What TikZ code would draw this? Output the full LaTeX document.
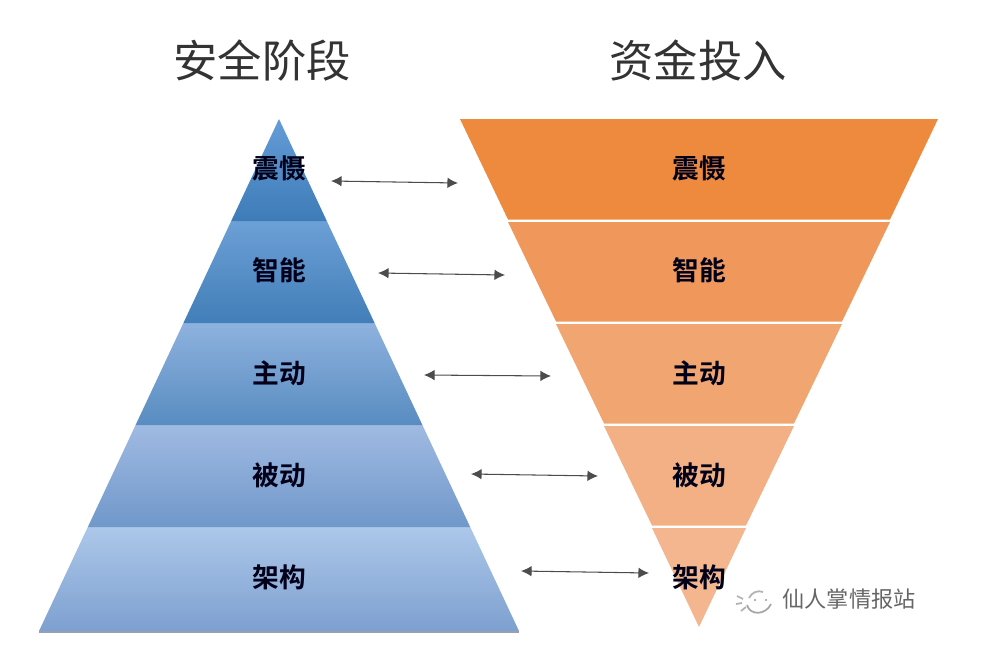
\documentclass[tikz,border=0pt]{standalone}
\usepackage{fontspec}
\setmainfont{Noto Sans CJK SC}
\newfontfamily\boldcjk[BoldFont={Noto Sans CJK SC Bold}]{Noto Sans CJK SC}
\usetikzlibrary{arrows.meta}
\definecolor{bandedge}{HTML}{9A9FB0}
\tikzset{
 titletext/.style={text=black!80,font=\fontsize{12.6pt}{14pt}\selectfont,inner sep=0pt},
 bandtext/.style={text=black!90!blue,font=\boldcjk\bfseries\fontsize{7.6pt}{9pt}\selectfont,inner sep=0pt},
 marktext/.style={text=black!60,font=\fontsize{6.3pt}{8pt}\selectfont,inner sep=0pt},
 linkarrow/.style={{Latex[length=3pt,width=3pt]}-{Latex[length=3pt,width=3pt]},black!70,line width=0.3pt},
}
\begin{document}
\begin{tikzpicture}[x=0.01cm,y=-0.01cm]
 \useasboundingbox (0,0) rectangle (988,648);
 % left pyramid
 \fill[bandedge](39,631)--(519,631)--(519,633)--(39,633)--cycle;
 \shade[top color={rgb,255:red,172;green,199;blue,233},bottom color={rgb,255:red,126;green,160;blue,208}](87.8,527)--(470.2,527)--(519,631)--(39,631)--cycle;
 \shade[top color={rgb,255:red,160;green,186;blue,226},bottom color={rgb,255:red,112;green,152;blue,202}](135.6,425)--(422.4,425)--(470.2,527)--(87.8,527)--cycle;
 \shade[top color={rgb,255:red,142;green,178;blue,222},bottom color={rgb,255:red,88;green,140;blue,192}](183.4,323)--(374.6,323)--(422.4,425)--(135.6,425)--cycle;
 \shade[top color={rgb,255:red,108;green,160;blue,214},bottom color={rgb,255:red,66;green,126;blue,184}](231.2,221)--(326.8,221)--(374.6,323)--(183.4,323)--cycle;
 \shade[top color={rgb,255:red,100;green,156;blue,214},bottom color={rgb,255:red,62;green,124;blue,184}](279,119)--(326.8,221)--(231.2,221)--cycle;
 % right pyramid
 \fill[fill={rgb,255:red,238;green,138;blue,62}](460,119)--(938,119)--(890,219.5)--(508,219.5)--cycle;
 \fill[fill={rgb,255:red,240;green,152;blue,92}](508,222)--(890,222)--(842,321.5)--(556,321.5)--cycle;
 \fill[fill={rgb,255:red,241;green,166;blue,114}](556,324)--(842,324)--(794,423.5)--(604,423.5)--cycle;
 \fill[fill={rgb,255:red,242;green,176;blue,132}](604,426)--(794,426)--(746,525.5)--(652,525.5)--cycle;
 \fill[fill={rgb,255:red,243;green,182;blue,143}](652,528)--(746,528)--(699,627)--cycle;
 % titles
 \node[titletext] (titlestage) at (262,61) {安全阶段};
 \node[titletext] (titlefund) at (698,61) {资金投入};
 % labels
 \node[bandtext] (stagea) at (279,168) {震慑};
 \node[bandtext] (stageb) at (279,270) {智能};
 \node[bandtext] (stagec) at (279,373) {主动};
 \node[bandtext] (staged) at (279,475) {被动};
 \node[bandtext] (stagee) at (279,577) {架构};
 \node[bandtext] (funda) at (699,168) {震慑};
 \node[bandtext] (fundb) at (699,270) {智能};
 \node[bandtext] (fundc) at (699,373) {主动};
 \node[bandtext] (fundd) at (699,475) {被动};
 \node[bandtext] (funde) at (699,577) {架构};
 % arrows
 \coordinate (la) at (331,181); \coordinate (ra) at (458,183);
 \coordinate (lb) at (378,273); \coordinate (rb) at (505,275);
 \coordinate (lc) at (424,375); \coordinate (rc) at (551,376);
 \coordinate (ld) at (471,474); \coordinate (rd) at (598,476);
 \coordinate (le) at (521,571); \coordinate (re) at (649,573);
 \draw[linkarrow](la)--(ra);
 \draw[linkarrow](lb)--(rb);
 \draw[linkarrow](lc)--(rc);
 \draw[linkarrow](ld)--(rd);
 \draw[linkarrow](le)--(re);
 % watermark
 \draw[black!35,line width=0.5pt](747,605) .. controls (750,616) and (766,615) .. (771,604);
 \draw[black!30,line width=0.5pt](749,598) .. controls (752,592) and (758,590) .. (763,592);
 \draw[black!30,line width=0.5pt](737,596)--(743,599);
 \draw[black!30,line width=0.5pt](736,604)--(742,603);
 \draw[black!30,line width=0.5pt](741,611)--(746,607);
 \fill[black!40](755,600) circle (1.2);
 \fill[black!40](766,600) circle (1.2);
 \node[marktext] (mark) at (849,599) {仙人掌情报站};
\end{tikzpicture}
\end{document}
